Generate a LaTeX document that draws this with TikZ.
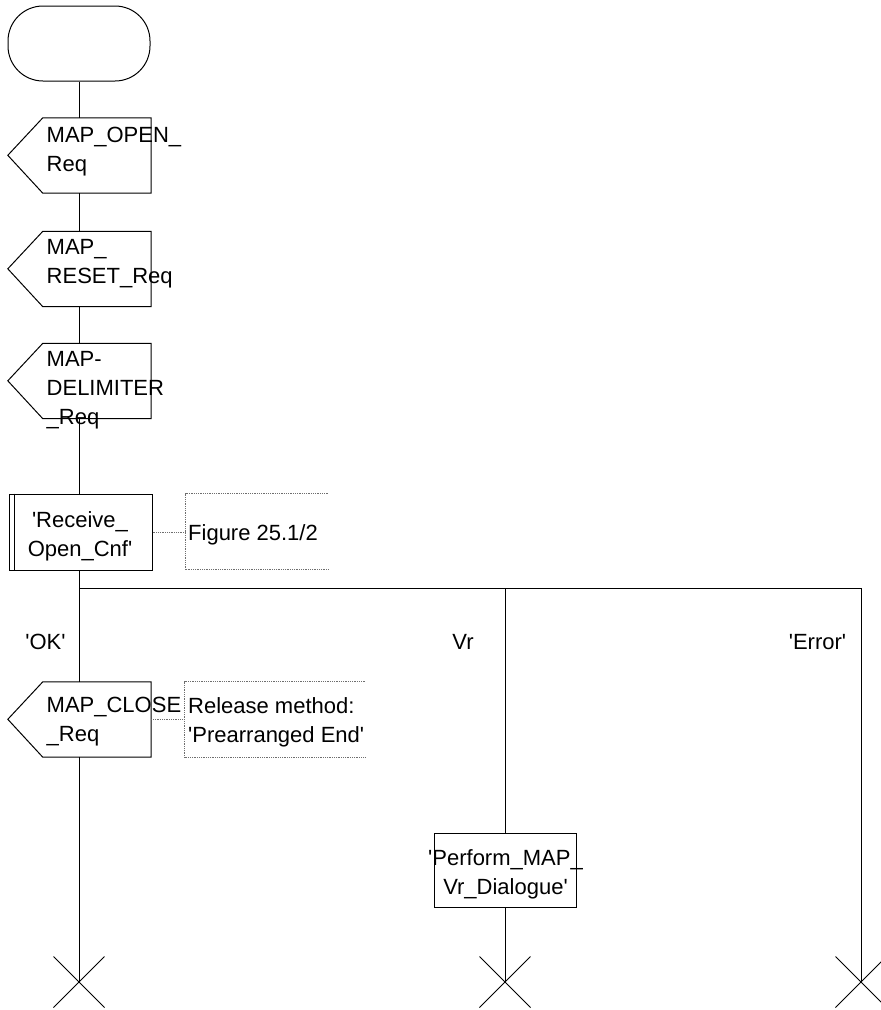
\documentclass[tikz,border=0pt]{standalone}
\usepackage{fontspec}
\setmainfont{Liberation Sans}[Ligatures=TeXOff]
\usetikzlibrary{shapes.misc, calc}
\definecolor{notegray}{RGB}{110,110,110}
\tikzset{
    flow/.style={draw=black, line width=1pt},
    startbox/.style={flow, rectangle, rounded corners=35pt, minimum width=142pt, minimum height=75pt, inner sep=0pt},
    sigbody/.style={rectangle, minimum width=108pt, minimum height=75pt, inner sep=0pt},
    procbox/.style={flow, rectangle, minimum width=143pt, minimum height=76pt, inner sep=0pt},
    taskbox/.style={flow, rectangle, minimum width=142pt, minimum height=74pt, inner sep=0pt},
    stopmark/.style={flow, cross out, minimum size=50pt, inner sep=0pt},
    txt/.style={font=\fontsize{22}{29}\selectfont, inner sep=0pt},
    notelink/.style={draw=notegray, densely dotted, line width=0.8pt}
}

\begin{document}
\begin{tikzpicture}[x=1pt, y=-1pt]
    \useasboundingbox (0,0) rectangle (881,1010);

    \node[startbox] (start) at (79,43.5) {};
    \node[sigbody] (open) at (97,155.5) {};
    \node[sigbody] (reset) at (97,269) {};
    \node[sigbody] (delim) at (97,381) {};
    \node[procbox] (recv) at (80.5,532) {};
    \node[rectangle, minimum width=142pt, minimum height=75pt, inner sep=0pt] (fig) at (257,531.5) {};
    \node[sigbody] (close) at (97,719.5) {};
    \node[rectangle, minimum width=180pt, minimum height=75pt, inner sep=0pt] (rel) at (275,719.5) {};
    \node[taskbox] (perf) at (505,870) {};
    \coordinate (split) at (79,588);

    \node[stopmark] (endOk) at (79,982) {};
    \node[stopmark] (endVr) at (505,982) {};
    \node[stopmark] (endErr) at (861,982) {};

    \foreach \n in {open,reset,delim,close}
        \draw[flow] (\n.north east) -- (\n.north west) -- ++(-35,37.5) -- (\n.south west) -- (\n.south east) -- cycle;
    \draw[flow] ([xshift=6pt]recv.north west) -- ([xshift=6pt]recv.south west);
    \draw[notelink] (fig.north east) -- (fig.north west) -- (fig.south west) -- (fig.south east);
    \draw[notelink] (rel.north east) -- (rel.north west) -- (rel.south west) -- (rel.south east);
    \draw[notelink] (recv.east) -- (recv.east -| fig.west);
    \draw[notelink] (close.east) -- (close.east -| rel.west);

    \node[txt, anchor=north west, align=left] (openTxt) at (46.5,127) {MAP\_OPEN\_\\Req};
    \node[txt, anchor=north west, align=left] (resetTxt) at (46.5,239) {MAP\_\\RESET\_Req};
    \node[txt, anchor=north west, align=left] (delimTxt) at (46.5,351) {MAP-\\DELIMITER\\\_Req};
    \node[txt, anchor=north, align=center] (recvTxt) at (80,511) {'Receive\_\\Open\_Cnf'};
    \node[txt, anchor=base west] (figTxt) at (188,540) {Figure 25.1/2};
    \node[txt, anchor=base] (okTxt) at (45.5,649) {'OK'};
    \node[txt, anchor=base] (vrTxt) at (463,649) {Vr};
    \node[txt, anchor=base] (errTxt) at (817.5,649) {'Error'};
    \node[txt, anchor=north west, align=left] (closeTxt) at (46.5,697) {MAP\_CLOSE\\\_Req};
    \node[txt, anchor=north west, align=left] (relTxt) at (188,697) {Release method:\\'Prearranged End'};
    \node[txt, anchor=north, align=center] (perfTxt) at (505.5,849) {'Perform\_MAP\_\\Vr\_Dialogue'};

    \draw[flow] (start.south) -- (start.south |- open.north);
    \draw[flow] (open.south -| start) -- (reset.north -| start);
    \draw[flow] (reset.south -| start) -- (delim.north -| start);
    \draw[flow] (delim.south -| start) -- (recv.north -| start);
    \draw[flow] (recv.south -| start) -- (close.north -| start);
    \draw[flow] (close.south -| start) -- (endOk.center);
    \draw[flow] (split) -- (split -| endErr) -- (endErr.center);
    \draw[flow] (split -| perf) -- (perf.north);
    \draw[flow] (perf.south) -- (endVr.center);
\end{tikzpicture}
\end{document}
